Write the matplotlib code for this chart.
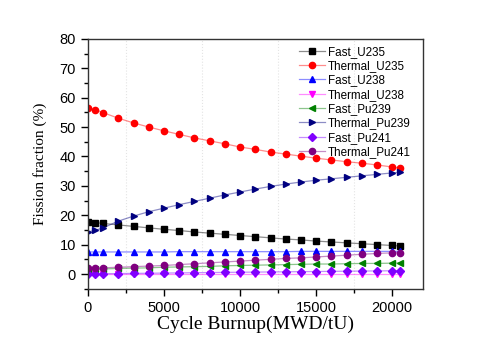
import numpy as np
import matplotlib
matplotlib.use("Agg")
import matplotlib.pyplot as plt
from matplotlib.ticker import MultipleLocator

# burnup steps (MWD/tU)
burnup = [0, 500, 1000, 2000, 3000, 4000, 5000, 6000, 7000, 8000, 9000, 10000,
          11000, 12000, 13000, 14000, 15000, 16000, 17000, 18000, 19000, 20000, 20500]

# fission fractions (%)
fast_u235 = [17.8, 17.5, 17.2, 16.7, 16.2, 15.7, 15.2, 14.8, 14.3, 13.9, 13.5, 13.1,
             12.7, 12.3, 11.9, 11.6, 11.2, 10.9, 10.6, 10.3, 10.0, 9.7, 9.5]
thermal_u235 = [56.5, 55.9, 54.9, 53.0, 51.4, 50.0, 48.7, 47.5, 46.3, 45.3, 44.3, 43.2,
                42.4, 41.5, 40.8, 40.1, 39.4, 38.8, 38.2, 37.7, 37.1, 36.4, 36.1]
fast_u238 = [7.5, 7.5, 7.5, 7.5, 7.5, 7.5, 7.5, 7.6, 7.6, 7.6, 7.6, 7.6,
             7.6, 7.6, 7.6, 7.7, 7.7, 7.7, 7.7, 7.7, 7.7, 7.7, 7.7]
thermal_u238 = [0.0] * 23
fast_pu239 = [1.5, 1.6, 1.7, 1.9, 2.0, 2.1, 2.3, 2.4, 2.5, 2.6, 2.8, 2.9,
              3.0, 3.1, 3.2, 3.3, 3.4, 3.4, 3.5, 3.6, 3.6, 3.7, 3.7]
thermal_pu239 = [14.3, 14.9, 15.7, 18.0, 19.7, 21.2, 22.4, 23.6, 24.7, 25.8, 26.9, 27.9,
                 28.9, 29.8, 30.6, 31.3, 31.9, 32.4, 32.9, 33.4, 33.9, 34.4, 34.6]
fast_pu241 = [0.05, 0.07, 0.1, 0.15, 0.2, 0.26, 0.32, 0.38, 0.44, 0.5, 0.55, 0.6,
              0.65, 0.7, 0.75, 0.8, 0.85, 0.9, 0.95, 1.0, 1.05, 1.1, 1.1]
thermal_pu241 = [2.0, 2.0, 2.1, 2.3, 2.5, 2.7, 2.9, 3.2, 3.5, 3.8, 4.1, 4.4,
                 4.7, 5.0, 5.3, 5.5, 5.8, 6.1, 6.4, 6.7, 7.0, 7.2, 7.3]

series = [
    ("Fast_U235", fast_u235, "#000000", "s"),
    ("Thermal_U235", thermal_u235, "#ff0000", "o"),
    ("Fast_U238", fast_u238, "#0000ff", "^"),
    ("Thermal_U238", thermal_u238, "#ff00ff", "v"),
    ("Fast_Pu239", fast_pu239, "#008000", "<"),
    ("Thermal_Pu239", thermal_pu239, "#000080", ">"),
    ("Fast_Pu241", fast_pu241, "#8000ff", "D"),
    ("Thermal_Pu241", thermal_pu241, "#800080", "o"),
]

fig = plt.figure(figsize=(4.91, 3.47), dpi=100)
ax = fig.add_axes([0.179, 0.168, 0.682, 0.720])

for name, vals, col, mk in series:
    rgb = matplotlib.colors.to_rgb(col)
    ms = 3.8 if mk == "D" else 4.5
    ax.plot(burnup, vals, color=rgb + (0.45,), lw=0.9, marker=mk, ms=ms,
            markerfacecolor=col, markeredgecolor=col, label=name)

ax.set_xlim(0, 22000)
ax.set_ylim(-5, 80)
ax.xaxis.set_major_locator(MultipleLocator(5000))
ax.xaxis.set_minor_locator(MultipleLocator(2500))
ax.yaxis.set_major_locator(MultipleLocator(10))
ax.yaxis.set_minor_locator(MultipleLocator(5))
ax.tick_params(which="both", direction="out", top=False, right=False,
               labelsize=10.5, width=1)
ax.tick_params(which="major", length=5)
ax.tick_params(which="minor", length=3)
for lab in ax.get_xticklabels() + ax.get_yticklabels():
    lab.set_family("Liberation Sans")
ax.grid(which="minor", axis="x", color="#e4e4e4", ls=":", lw=0.8)
for sp in ax.spines.values():
    sp.set_linewidth(1.0)
    sp.set_color("#333333")

ax.set_xlabel("Cycle Burnup(MWD/tU)", family="Liberation Serif", fontsize=14, labelpad=1)
ax.set_ylabel("Fission fraction (%)", family="Liberation Serif", fontsize=11, labelpad=9)

ax.legend(loc="upper right", bbox_to_anchor=(0.985, 1.0), frameon=False,
          prop={"family": "Liberation Sans", "size": 8.4}, handlelength=2.3,
          handletextpad=0.2, labelspacing=0.2, borderaxespad=0.2)

fig.savefig("out.png", dpi=100)
